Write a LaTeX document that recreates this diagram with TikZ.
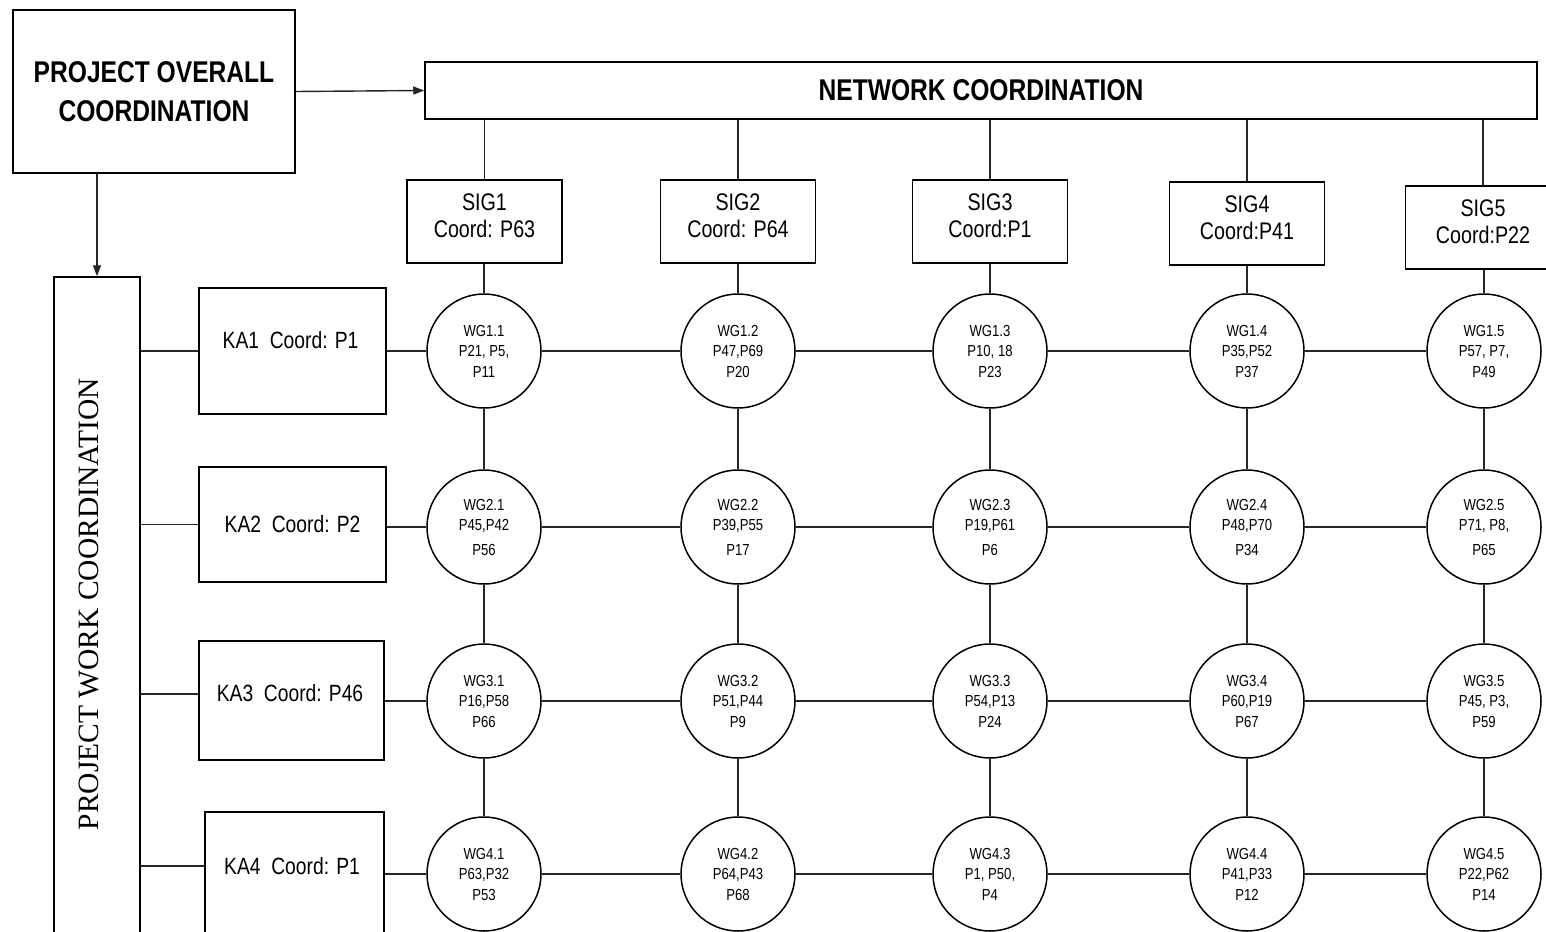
\documentclass[tikz,border=0pt]{standalone}
\usepackage{fontspec}
\setmainfont{Liberation Sans}
\newfontfamily\nar[FakeStretch=0.82]{Liberation Sans}
\newfontfamily\narbold[FakeStretch=0.82]{Liberation Sans Bold}
\newfontfamily\pwserif{Liberation Serif}
\usetikzlibrary{arrows.meta}
\begin{document}
\begin{tikzpicture}[x=1pt,y=-1pt,
  ln/.style={line width=1.4pt, draw=black!85},
  arr/.style={ln, -{Triangle[length=11pt,width=8pt]}},
  bigbox/.style={draw, line width=1.5pt, align=center, inner sep=0pt,
     font=\narbold\fontsize{30}{39}\selectfont},
  sigbox/.style={draw, line width=1.5pt, inner sep=0pt,
     minimum width=155pt, minimum height=83pt},
  sigtext/.style={align=center, inner sep=0pt, yshift=6pt,
     font=\nar\fontsize{24}{27}\selectfont},
  kabox/.style={draw, line width=1.5pt, inner sep=0pt},
  katext/.style={font=\nar\fontsize{23.5}{27}\selectfont, inner sep=0pt},
  wg/.style={draw, circle, line width=1.5pt, minimum size=114pt, inner sep=0pt,
     align=center, font=\nar\fontsize{16}{20.5}\selectfont}]
\path[use as bounding box] (0,0) rectangle (1546,931);
\clip (0,0) rectangle (1546,931);
\fill[white] (0,0) rectangle (1546,931);

% top boxes
\node[bigbox, minimum width=282pt, minimum height=163pt] (POC) at (154,91.5) {PROJECT OVERALL\\COORDINATION};
\node[bigbox, minimum width=1112pt, minimum height=57pt] (NET) at (981,90.5) {NETWORK COORDINATION};

% project work coordination column
\node[draw, line width=1.5pt, minimum width=86pt, minimum height=673pt, inner sep=0pt] (PWC) at (97,613.5) {};
\node[rotate=90, inner sep=0pt, font=\pwserif\fontsize{29.5}{30}\selectfont] (PWCt) at (89,604) {PROJECT WORK COORDINATION};

% SIG boxes
\node[sigbox, label={[sigtext]center:SIG1\\Coord: P63}] (SIG1) at (484.5,221.5) {};
\node[sigbox, label={[sigtext]center:SIG2\\Coord: P64}] (SIG2) at (738,221.5) {};
\node[sigbox, label={[sigtext]center:SIG3\\Coord:P1}] (SIG3) at (990,221.5) {};
\node[sigbox, label={[sigtext]center:SIG4\\Coord:P41}] (SIG4) at (1247,223.5) {};
\node[sigbox, label={[sigtext]center:SIG5\\Coord:P22}] (SIG5) at (1483,227.5) {};

% KA boxes
\node[kabox, minimum width=187pt, minimum height=126pt,
  label={[katext, yshift=11pt, xshift=-2pt]center:KA1 \ Coord: P1}] (KA1) at (292.5,351) {};
\node[kabox, minimum width=187pt, minimum height=115pt,
  label={[katext]center:KA2 \ Coord: P2}] (KA2) at (292.5,524.5) {};
\node[kabox, minimum width=185pt, minimum height=119pt,
  label={[katext, yshift=7.5pt, xshift=-1.5pt]center:KA3 \ Coord: P46}] (KA3) at (291.5,700.5) {};
\node[kabox, minimum width=179pt, minimum height=126pt,
  label={[katext, yshift=9pt, xshift=-2.5pt]center:KA4 \ Coord: P1}] (KA4) at (294.5,875) {};
\coordinate (K3) at ([yshift=6.5pt]KA3.west);
\coordinate (K4) at ([yshift=9pt]KA4.west);

% WG circles
\node[wg] (W11) at (484,351) {WG1.1\\P21, P5,\\P11};
\node[wg] (W12) at (738,351) {WG1.2\\P47,P69\\P20};
\node[wg] (W13) at (990,351) {WG1.3\\P10, 18\\P23};
\node[wg] (W14) at (1247,351) {WG1.4\\P35,P52\\P37};
\node[wg] (W15) at (1484,351) {WG1.5\\P57, P7,\\P49};

\node[wg] (W21) at (484,527) {WG2.1\\P45,P42\\[4pt]P56};
\node[wg] (W22) at (738,527) {WG2.2\\P39,P55\\[4pt]P17};
\node[wg] (W23) at (990,527) {WG2.3\\P19,P61\\[4pt]P6};
\node[wg] (W24) at (1247,527) {WG2.4\\P48,P70\\[4pt]P34};
\node[wg] (W25) at (1484,527) {WG2.5\\P71, P8,\\[4pt]P65};

\node[wg] (W31) at (484,701) {WG3.1\\P16,P58\\P66};
\node[wg] (W32) at (738,701) {WG3.2\\P51,P44\\P9};
\node[wg] (W33) at (990,701) {WG3.3\\P54,P13\\P24};
\node[wg] (W34) at (1247,701) {WG3.4\\P60,P19\\P67};
\node[wg] (W35) at (1484,701) {WG3.5\\P45, P3,\\P59};

\node[wg] (W41) at (484,874) {WG4.1\\P63,P32\\P53};
\node[wg] (W42) at (738,874) {WG4.2\\P64,P43\\P68};
\node[wg] (W43) at (990,874) {WG4.3\\P1, P50,\\P4};
\node[wg] (W44) at (1247,874) {WG4.4\\P41,P33\\P12};
\node[wg] (W45) at (1484,874) {WG4.5\\P22,P62\\P14};

% arrows
\draw[arr] (POC.east) -- (NET.west);
\draw[arr] (POC.south -| PWC.north) -- (PWC.north);

% network to SIG, SIG to first row
\foreach \i in {1,...,5} {
  \draw[ln] (NET.south -| SIG\i.north) -- (SIG\i.north);
  \draw[ln] (W1\i.north |- SIG\i.south) -- (W1\i.north);
}
% PWC to KA
\draw[ln] (PWC.east |- KA1.west) -- (KA1.west);
\draw[ln] (PWC.east |- KA2.west) -- (KA2.west);
\draw[ln] (PWC.east |- K3) -- (K3);
\draw[ln] (PWC.east |- K4) -- (K4);
% KA to first circle
\foreach \r in {1,...,4} {
  \draw[ln] (KA\r.east |- W\r1.west) -- (W\r1.west);
}
% grid
\foreach \r in {1,...,4} {
  \foreach \c/\n in {1/2,2/3,3/4,4/5} {
    \draw[ln] (W\r\c.east) -- (W\r\n.west);
  }
}
\foreach \c in {1,...,5} {
  \foreach \r/\n in {1/2,2/3,3/4} {
    \draw[ln] (W\r\c.south) -- (W\n\c.north);
  }
}
\end{tikzpicture}
\end{document}
